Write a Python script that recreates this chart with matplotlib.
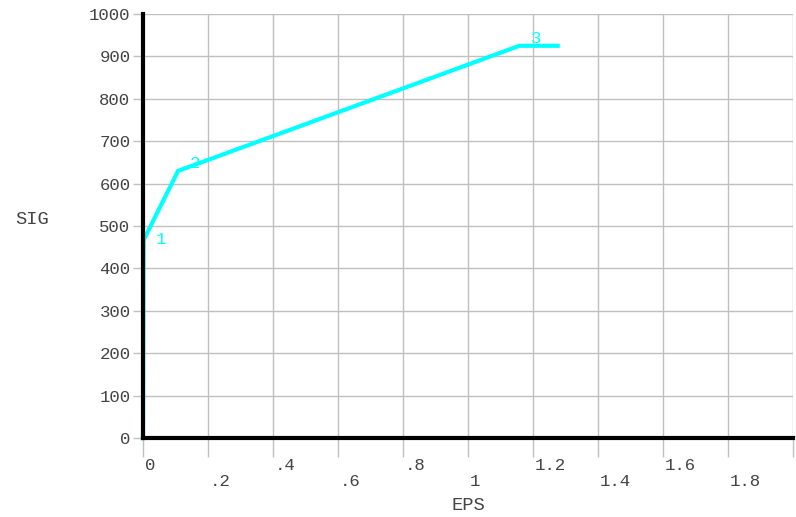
import matplotlib.pyplot as plt
from matplotlib.transforms import blended_transform_factory, offset_copy

# stress-strain curve points (EPS, SIG)
eps = [0.0, 0.002, 0.108, 1.158, 1.276]
sig = [0.0, 467, 630, 925, 925]

# numbered key points
pt_ids = ['1', '2', '3']
pt_eps = [0.002, 0.108, 1.158]
pt_sig = [467, 630, 925]

x_ticks = [0, 0.2, 0.4, 0.6, 0.8, 1.0, 1.2, 1.4, 1.6, 1.8, 2.0]
x_labels = ['0', '.2', '.4', '.6', '.8', '1', '1.2', '1.4', '1.6', '1.8', '2']
x_lower = [False, True, False, True, False, True, False, True, False, True, False]
y_ticks = list(range(0, 1001, 100))

mono = 'Liberation Mono'
txt_color = '#444444'
cyan = '#00ffff'

fig = plt.figure(figsize=(7.96, 5.17), dpi=100)
ax = fig.add_axes([143 / 796, 79 / 517, 650 / 796, 424 / 517])

ax.plot(eps, sig, color=cyan, linewidth=3, solid_joinstyle='miter', zorder=3, clip_on=False)
for lab, x, y in zip(pt_ids, pt_eps, pt_sig):
    ax.annotate(lab, (x, y), xytext=(12, 0), textcoords='offset pixels',
                color=cyan, fontsize=12.5, family=mono, va='bottom' if lab != '1' else 'center',
                ha='left')

ax.set_xlim(0, 2)
ax.set_ylim(0, 1000)

ax.set_xticks(x_ticks)
ax.set_xticklabels([])
ax.set_yticks(y_ticks)
ax.set_yticklabels([str(v) for v in y_ticks], family=mono, fontsize=12.5, color=txt_color)
ax.tick_params(axis='x', length=14, color='#c0c0c0', width=1)
ax.tick_params(axis='y', length=7, color='#c0c0c0', width=1, pad=2)
ax.grid(True, color='#c0c0c0', linewidth=1)
ax.set_axisbelow(True)

for s in ['top', 'right']:
    ax.spines[s].set_visible(False)
for s in ['left', 'bottom']:
    ax.spines[s].set_linewidth(3)
    ax.spines[s].set_color('black')
    ax.spines[s].set_zorder(4)

trans = blended_transform_factory(ax.transData, ax.transAxes)
trans = offset_copy(trans, fig=fig, x=2, y=0, units='dots')
for x, lab, low in zip(x_ticks, x_labels, x_lower):
    yy = -44 / 424 if low else -27 / 424
    ax.text(x, yy, lab, transform=trans, ha='left', va='center',
            family=mono, fontsize=12.5, color=txt_color, clip_on=False)

fig.text(468 / 796, 1 - 506 / 517, 'EPS', ha='center', va='center',
         family=mono, fontsize=13.5, color=txt_color)
fig.text(32 / 796, 1 - 220 / 517, 'SIG', ha='center', va='center',
         family=mono, fontsize=13.5, color=txt_color)

fig.savefig('out.png', dpi=100)
